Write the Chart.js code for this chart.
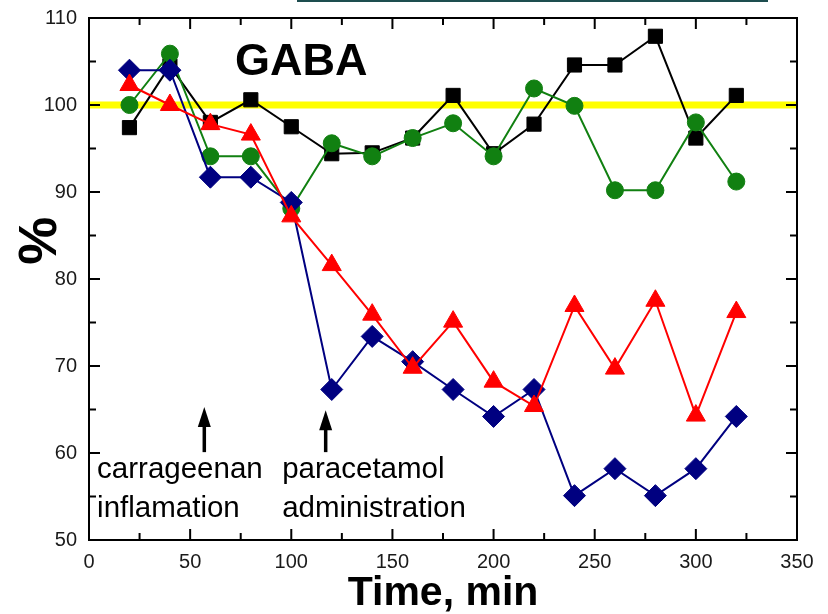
<!DOCTYPE html>
<html lang="en">
<head>
  <meta charset="UTF-8">
  <title>GABA</title>
  <script src="https://cdn.jsdelivr.net/npm/chart.js"></script>
  <style>
    body { margin: 0; background: #fff; }
    #wrap { position: relative; width: 828px; height: 614px; }
    #bar { position: absolute; left: 297px; top: 0; width: 471px; height: 2px; background: #1d4d4f; }
  </style>
</head>
<body>
  <div id="wrap">
    <canvas id="gabaChart" width="828" height="614"></canvas>
    <div id="bar"></div>
  </div>

  <script>
    const times = [20, 40, 60, 80, 100, 120, 140, 160, 180, 200, 220, 240, 260, 280, 300, 320];
    const black = [97.4, 104.5, 98.0, 100.6, 97.5, 94.4, 94.5, 96.2, 101.1, 94.4, 97.8, 104.6, 104.6, 107.9, 96.2, 101.1];
    const green = [100.0, 105.9, 94.1, 94.1, 88.1, 95.6, 94.1, 96.2, 97.9, 94.1, 101.9, 99.9, 90.2, 90.2, 98.0, 91.2];
    const red = [102.3, 100.0, 97.8, 96.6, 87.2, 81.6, 75.9, 69.8, 75.1, 68.2, 65.4, 76.9, 69.7, 77.5, 64.3, 76.2];
    const blue = [104.0, 104.0, 91.7, 91.7, 88.8, 67.3, 73.4, 70.5, 67.3, 64.2, 67.3, 55.1, 58.2, 55.1, 58.2, 64.2];
    const refLevel = 100;
    const xRange = [0, 350];

    const xTicks = [0, 50, 100, 150, 200, 250, 300, 350];
    const yTicks = [50, 60, 70, 80, 90, 100, 110];

    // annotations (data units)
    const arrowX = [57, 117];
    const arrowTip = [65.3, 64.9];
    const arrowBase = [60.1, 60.1];
    const noteLines = [["carrageenan", "inflamation"], ["paracetamol", "administration"]];
    const noteX = [4, 95.5];
    const noteY = [57.1, 52.6];

    const FONT = "'Liberation Sans', Arial, sans-serif";

    const pts = arr => arr.map((v, i) => ({ x: times[i], y: v }));

    function series(label, values, color, shape, radius, order) {
      return {
        label: label,
        data: pts(values),
        borderColor: color,
        backgroundColor: color,
        pointBackgroundColor: color,
        pointBorderColor: color,
        pointStyle: shape,
        pointRadius: radius,
        pointBorderWidth: 1,
        borderWidth: 2,
        tension: 0,
        order: order
      };
    }

    const frame = {
      id: "frame",
      afterDraw(chart) {
        const ctx = chart.ctx;
        const a = chart.chartArea;
        const xs = chart.scales.x, ys = chart.scales.y;
        ctx.save();
        ctx.strokeStyle = "#000";
        ctx.lineWidth = 2;
        ctx.strokeRect(a.left, a.top, a.right - a.left, a.bottom - a.top);

        // inward ticks, majors and minors
        ctx.beginPath();
        for (let v = xRange[0] + 25; v < xRange[1]; v += 25) {
          const len = v % 50 === 0 ? 11 : 7;
          const px = xs.getPixelForValue(v);
          ctx.moveTo(px, a.bottom); ctx.lineTo(px, a.bottom - len);
          ctx.moveTo(px, a.top); ctx.lineTo(px, a.top + len);
        }
        for (let v = yTicks[0] + 5; v < yTicks[yTicks.length - 1]; v += 5) {
          const len = v % 10 === 0 ? 11 : 7;
          const py = ys.getPixelForValue(v);
          ctx.moveTo(a.left, py); ctx.lineTo(a.left + len, py);
          ctx.moveTo(a.right, py); ctx.lineTo(a.right - len, py);
        }
        ctx.stroke();

        // arrows
        ctx.fillStyle = "#000";
        arrowX.forEach((v, i) => {
          const px = xs.getPixelForValue(v);
          const tip = ys.getPixelForValue(arrowTip[i]);
          const base = ys.getPixelForValue(arrowBase[i]);
          ctx.fillRect(px - 1.75, tip + 14, 3.5, base - tip - 14);
          ctx.beginPath();
          ctx.moveTo(px, tip);
          ctx.lineTo(px + 6.5, tip + 20);
          ctx.lineTo(px - 6.5, tip + 20);
          ctx.closePath();
          ctx.fill();
        });

        // notes
        ctx.font = "29.5px " + FONT;
        ctx.textAlign = "left";
        ctx.textBaseline = "alphabetic";
        noteLines.forEach((lines, i) => {
          const px = xs.getPixelForValue(noteX[i]);
          ctx.fillText(lines[0], px, ys.getPixelForValue(noteY[0]));
          ctx.fillText(lines[1], px, ys.getPixelForValue(noteY[1]));
        });

        // panel label
        ctx.font = "bold 45px " + FONT;
        ctx.fillText("GABA", xs.getPixelForValue(72.2), ys.getPixelForValue(103.4));

        // y title
        ctx.translate(a.left - 48, ys.getPixelForValue(84.4));
        ctx.rotate(-Math.PI / 2);
        ctx.font = "bold 54px " + FONT;
        ctx.textAlign = "center";
        ctx.textBaseline = "middle";
        ctx.fillText("%", 0, 0);
        ctx.restore();
      }
    };

    new Chart(document.getElementById("gabaChart"), {
      type: "line",
      data: {
        datasets: [
          series("red", red, "#ff0000", "triangle", 11, 1),
          series("blue", blue, "#000080", "rectRot", 11, 2),
          series("green", green, "#118011", "circle", 8.5, 3),
          series("black", black, "#000000", "rect", 10, 4),
          {
            label: "ref",
            data: xRange.map(x => ({ x: x, y: refLevel })),
            borderColor: "#ffff00",
            borderWidth: 7,
            pointRadius: 0,
            order: 9
          }
        ]
      },
      options: {
        responsive: false,
        animation: false,
        layout: { autoPadding: false, padding: { top: 18, right: 31, left: 0, bottom: 0 } },
        plugins: { legend: { display: false }, tooltip: { enabled: false } },
        scales: {
          x: {
            type: "linear",
            min: xRange[0],
            max: xRange[1],
            afterBuildTicks: s => { s.ticks = xTicks.map(v => ({ value: v })); },
            afterFit: s => { s.height = 74; },
            ticks: { padding: 10, color: "#1a1a1a", font: { family: FONT, size: 20 } },
            grid: { display: false, drawTicks: false },
            border: { display: false },
            title: {
              display: true,
              text: "Time, min",
              color: "#000",
              padding: 0,
              font: { family: FONT, size: 41, weight: "bold", lineHeight: 1 }
            }
          },
          y: {
            min: yTicks[0],
            max: yTicks[yTicks.length - 1],
            afterBuildTicks: s => { s.ticks = yTicks.map(v => ({ value: v })); },
            afterFit: s => { s.width = 89; s.paddingTop = 0; s.paddingBottom = 0; },
            ticks: { padding: 12, color: "#1a1a1a", font: { family: FONT, size: 20 } },
            grid: { display: false, drawTicks: false },
            border: { display: false }
          }
        }
      },
      plugins: [frame]
    });
  </script>
</body>
</html>
